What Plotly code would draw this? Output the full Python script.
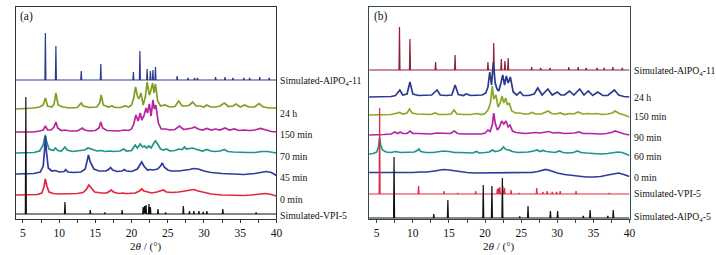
import plotly.graph_objects as go

# ---------------- Panel (a) data ----------------
# simulated stick patterns: peak positions (2theta) and heights
a_sim11_pos = [8.1, 9.55, 13.05, 15.75, 20.25, 21.15, 22.15, 22.6, 22.95, 23.3, 26.3, 27.8, 28.7, 29.1, 31.6, 32.9, 34.0, 35.5, 36.3, 37.7, 39.0]
a_sim11_h   = [47, 34, 9, 16, 8, 29, 11, 9, 10, 13, 4, 2, 2, 2, 3, 3, 2, 2, 2, 3, 2]
a_vpi_pos = [5.4, 10.8, 14.3, 16.3, 18.7, 21.6, 21.8, 22.0, 22.4, 22.6, 23.65, 24.7, 27.15, 28.0, 28.6, 29.3, 29.9, 30.4, 32.6, 37.2]
a_vpi_h   = [117, 12, 4, 1.5, 4, 7, 8, 9, 10, 7, 5, 1.5, 8, 3, 3, 3, 2, 3, 5, 1.5]

a_0_x = [4.0, 5.0, 6.0, 7.0, 7.6, 7.9, 8.1, 8.3, 8.6, 9.2, 10.0, 10.8, 11.5, 12.5, 13.3, 13.8, 14.1, 14.4, 14.9, 15.8, 16.6, 17.0, 17.2, 17.5, 18.2, 18.9, 19.1, 19.6, 20.5, 21.1, 21.4, 21.7, 22.3, 22.8, 23.5, 24.1, 24.4, 24.8, 25.5, 26.5, 27.3, 28.0, 28.6, 29.2, 30.0, 31.0, 32.5, 34.0, 35.5, 36.5, 37.5, 38.5, 39.3, 40.0]
a_0_h = [1, 1, 1, 1.5, 3, 9, 17, 10, 4, 2.5, 2, 2, 2, 2.5, 3.5, 7, 11, 8, 4, 3, 3, 5, 6, 4, 2.5, 3, 2.5, 2.5, 3, 5, 7, 5, 3.5, 3, 4, 5, 6, 4, 3.5, 4, 5, 6, 6.5, 5, 3.5, 2, 1, 0.5, 0.5, 1, 2, 2.5, 1.5, 0]

a_45_x = [4.0, 5.5, 6.5, 7.4, 7.8, 8.0, 8.1, 8.25, 8.5, 9.0, 9.5, 10.0, 10.7, 10.9, 11.2, 12.0, 13.0, 13.6, 13.9, 14.05, 14.3, 14.8, 15.5, 16.5, 16.9, 17.1, 17.4, 18.0, 18.7, 19.0, 19.3, 20.0, 20.8, 21.2, 21.4, 21.7, 22.2, 22.6, 23.0, 23.6, 24.0, 24.25, 24.5, 25.0, 25.5, 26.5, 27.5, 28.0, 28.6, 29.2, 30.0, 31.0, 32.5, 34.0, 35.5, 37.0, 38.0, 38.6, 39.3, 40.0]
a_45_h = [0, 0, 0.5, 2, 8, 25, 38, 22, 6, 3, 3.5, 2, 2.5, 4.5, 2, 1.5, 2, 5, 15, 19, 12, 5, 3, 3, 5, 6.5, 4, 2.5, 3, 4.5, 3, 2.5, 5, 10, 12, 8, 4, 4.5, 4, 5, 8, 11, 7, 4, 3, 3, 3.5, 4.5, 5.5, 5, 3, 1.5, 0.5, 0, -0.5, 0.5, 2, 2.5, 1.5, -1.5]

a_70_x = [4.0, 5.5, 6.5, 7.3, 7.8, 8.0, 8.1, 8.25, 8.6, 9.2, 9.5, 9.8, 10.3, 10.8, 11.1, 11.8, 12.8, 13.5, 14.0, 14.5, 15.2, 15.8, 16.3, 17.0, 17.6, 18.4, 18.9, 19.3, 20.0, 20.5, 20.8, 21.2, 21.5, 21.8, 22.1, 22.4, 22.7, 23.1, 23.3, 23.6, 24.0, 24.4, 24.8, 25.3, 26.0, 26.5, 27.0, 27.3, 27.6, 28.0, 28.4, 28.8, 29.3, 29.8, 30.4, 30.9, 31.5, 32.2, 32.8, 33.3, 34.0, 35.0, 36.0, 37.0, 38.0, 38.8, 39.5, 40.0]
a_70_h = [1, 1, 1.5, 3, 9, 16, 19, 13, 5, 3.5, 6, 3.5, 3, 7, 4, 2.5, 3, 4, 6, 5, 3, 3.5, 2.5, 3, 2.5, 3, 5, 3, 3.5, 9, 6, 10, 7, 8, 6, 8, 6, 11, 13, 10, 5, 4, 5, 3, 3.5, 5, 4.5, 7, 5, 5.5, 6, 5, 4, 3, 4.5, 3, 2.5, 3, 4.5, 2.5, 2, 1.5, 1.5, 1.5, 2.5, 2.5, 1.5, 1]

a_150_x = [4.0, 5.5, 6.5, 7.3, 7.8, 8.1, 8.4, 8.9, 9.3, 9.55, 9.8, 10.3, 10.8, 11.5, 12.5, 13.0, 13.2, 13.5, 14.2, 15.0, 15.5, 15.75, 16.0, 16.6, 17.3, 18.2, 19.0, 19.6, 20.0, 20.3, 20.6, 20.9, 21.2, 21.4, 21.7, 22.0, 22.2, 22.45, 22.7, 22.95, 23.15, 23.35, 23.7, 24.1, 24.7, 25.3, 26.0, 26.6, 27.2, 27.8, 28.4, 28.7, 29.2, 29.8, 30.4, 31.0, 31.6, 32.2, 32.9, 33.5, 34.2, 34.8, 35.5, 36.3, 37.0, 37.8, 38.5, 39.3, 40.0]
a_150_h = [1, 1, 1, 2, 3, 7, 3, 3, 6, 11, 5, 2.5, 3, 2, 2, 4, 5, 3, 2, 2.5, 5, 11, 5, 2.5, 2, 2, 3, 2.5, 4, 9, 18, 12, 20, 13, 17, 25, 20, 29, 17, 33, 24, 28, 10, 4, 4, 3, 3.5, 7, 3.5, 4, 5, 6, 4, 3, 4.5, 3, 4, 3, 5, 3, 4, 2.5, 3, 2.5, 3, 4.5, 3, 1.5, 1]

a_24_x = [4.0, 5.5, 6.5, 7.3, 7.8, 8.1, 8.4, 9.0, 9.3, 9.55, 9.85, 10.5, 11.5, 12.5, 12.8, 13.05, 13.3, 14.2, 15.2, 15.6, 15.8, 16.1, 16.8, 17.3, 17.7, 18.5, 19.1, 19.6, 20.0, 20.3, 20.55, 20.8, 21.0, 21.3, 21.6, 21.9, 22.15, 22.45, 22.65, 22.9, 23.1, 23.3, 23.6, 24.0, 24.6, 25.3, 26.0, 26.5, 27.0, 27.6, 28.0, 28.45, 28.9, 29.5, 30.0, 30.4, 30.9, 31.6, 32.2, 32.8, 33.4, 34.0, 34.4, 35.0, 35.6, 36.2, 37.0, 37.6, 38.2, 39.0, 40.0]
a_24_h = [2, 2.5, 3, 4, 6, 13, 5, 4, 7, 18, 6, 4, 3, 3.5, 6, 8, 5, 3.5, 4, 8, 16, 6, 4, 5, 3.5, 3.5, 5, 4, 6, 13, 24, 15, 12, 18, 6, 14, 29, 16, 20, 28, 18, 27, 10, 5, 6, 4, 4.5, 10, 5, 5, 6, 9, 5, 5, 4, 6, 4, 4, 5, 8, 4.5, 5, 7, 4, 6, 4, 4, 7.5, 4, 3, 3]

# ---------------- Panel (b) data ----------------
b_sim11_pos = [8.15, 9.6, 13.15, 15.85, 20.4, 21.2, 22.25, 22.75, 23.2, 26.45, 27.7, 29.0, 31.6, 32.9, 34.0, 35.5, 36.5, 37.7, 39.0]
b_sim11_h   = [43, 31, 8, 15, 8, 27, 11, 9, 12, 3, 2, 2, 3, 3, 2, 2, 2, 3, 2]
b_vpi_pos = [5.4, 10.8, 14.3, 16.2, 18.7, 21.7, 21.85, 22.05, 22.45, 22.7, 23.6, 24.7, 27.15, 28.0, 28.6, 29.3, 29.9, 30.4, 32.6, 37.2]
b_vpi_h   = [86, 8, 3, 1, 3, 5, 6, 7, 8, 6, 4, 1, 6, 2, 3, 2, 2, 3, 3, 1]
b_afi_pos = [7.4, 12.9, 14.85, 19.75, 20.95, 22.4, 24.8, 25.95, 29.05, 30.05, 33.6, 34.55, 37.0, 37.75]
b_afi_h   = [61, 4, 18, 33, 32, 40, 1.5, 12, 7, 7, 2, 8, 2, 8]

b_0_x = [3.95, 5.0, 6.0, 7.0, 8.0, 9.0, 10.0, 11.0, 12.0, 13.0, 13.7, 14.3, 15.0, 15.8, 16.5, 17.5, 18.5, 19.5, 20.5, 21.5, 22.5, 23.5, 24.5, 25.5, 26.5, 27.3, 28.0, 28.4, 29.2, 30.0, 31.0, 32.0, 33.0, 34.0, 35.0, 36.0, 37.0, 38.0, 38.5, 39.2, 40.0]
b_0_h = [0.5, 0.5, 0, 0, 0, 0, 0.5, 1, 1, 2, 3, 3.5, 3, 2, 1, 0.5, 0, 0, 0, 0.5, 0.5, 0, 0, 0, 0.5, 1.5, 3, 3.5, 2, 0, -1.5, -2.5, -3.5, -4, -4, -3.5, -2, -0.5, 0, -1.5, -3.5]

b_60_x = [3.95, 4.5, 5.0, 5.25, 5.4, 5.55, 5.8, 6.3, 7.0, 7.6, 8.3, 9.0, 9.6, 10.2, 10.6, 10.85, 11.1, 11.8, 12.8, 13.5, 14.2, 15.0, 15.8, 16.5, 17.5, 18.3, 18.8, 19.2, 20.0, 20.6, 21.0, 21.4, 21.8, 22.2, 22.55, 22.9, 23.3, 23.8, 24.5, 25.2, 26.0, 26.7, 27.2, 27.6, 28.0, 28.5, 29.0, 29.7, 30.3, 30.8, 31.5, 32.2, 32.8, 33.3, 34.0, 35.0, 36.0, 37.0, 37.8, 38.4, 39.0, 39.6, 40.0]
b_60_h = [0, 0.5, 2, 7, 16, 9, 4, 2, 1.5, 2.5, 1.5, 1.5, 1.5, 2, 3.5, 5, 2.5, 1.5, 1.5, 2.5, 3, 2.5, 1.5, 1.5, 1, 1, 2.5, 1, 1.5, 2, 4, 2.5, 3, 4, 7, 4.5, 4, 2.5, 1.5, 1.5, 2, 3, 4, 2.5, 3.5, 2.5, 2, 1.5, 3, 1.5, 1, 1.5, 3, 1.5, 1, 0.5, 0, 0.5, 1.5, 2, 1.5, 0, -1.5]

b_90_x = [3.95, 5.0, 6.0, 7.0, 7.5, 7.9, 8.25, 8.6, 9.2, 9.6, 10.0, 10.8, 11.5, 12.5, 13.3, 14.2, 15.2, 15.75, 16.2, 17.0, 18.0, 18.9, 19.5, 20.0, 20.4, 20.7, 21.0, 21.2, 21.4, 21.7, 22.0, 22.3, 22.6, 22.9, 23.2, 23.45, 23.8, 24.3, 25.0, 25.6, 26.3, 27.0, 27.6, 28.2, 28.8, 29.4, 30.2, 31.0, 31.8, 32.4, 33.0, 33.6, 34.4, 35.2, 36.0, 36.8, 37.5, 38.0, 38.6, 39.3, 40.0]
b_90_h = [0, 0, 0.5, 1, 3, 1.5, 3, 1.5, 1.5, 4, 1.5, 1.5, 1, 1, 2, 1.5, 1.5, 4, 1.5, 1, 1, 1.5, 1, 2, 5, 3.5, 10, 22, 12, 5, 8, 14, 11, 14, 8, 10, 4, 2.5, 2, 1.5, 2, 2.5, 2, 3, 3.5, 2, 2.5, 1.5, 1.5, 2, 3, 1.5, 1.5, 1, 1, 1.5, 2.5, 4, 2.5, 1, 0]

b_150_x = [3.95, 5.0, 6.0, 7.0, 7.6, 8.15, 8.6, 9.2, 9.55, 9.9, 10.6, 11.5, 12.5, 13.1, 13.6, 14.5, 15.3, 15.7, 16.1, 17.0, 18.0, 18.9, 19.5, 20.0, 20.4, 20.75, 21.0, 21.2, 21.5, 21.8, 22.1, 22.35, 22.6, 22.85, 23.1, 23.35, 23.7, 24.2, 24.8, 25.4, 26.0, 26.5, 27.0, 27.8, 28.3, 28.75, 29.2, 29.8, 30.4, 31.0, 31.7, 32.3, 32.9, 33.5, 34.2, 34.8, 35.5, 36.2, 37.0, 37.6, 38.0, 38.6, 39.3, 40.0]
b_150_h = [0, 0, 0, 0.5, 1.5, 2.5, 1, 2, 6, 2, 1, 0.5, 0.5, 2, 0.5, 0.5, 1, 5, 1, 0.5, 0.5, 1.5, 0.5, 1.5, 5, 12, 29, 16, 20, 8, 12, 19, 12, 17, 10, 12, 4, 2, 2, 1, 1, 2.5, 1, 1, 2.5, 4, 1.5, 1, 2, 0.5, 1.5, 1, 3, 1, 1.5, 1, 1.5, 0.5, 1, 2, 4, 1.5, 0, -2]

b_24_x = [3.95, 5.0, 6.0, 7.0, 7.6, 8.2, 8.6, 9.2, 9.6, 10.0, 10.8, 11.8, 12.6, 13.35, 13.8, 14.6, 15.4, 15.85, 16.3, 17.0, 17.4, 18.0, 19.0, 19.6, 20.1, 20.4, 20.65, 20.9, 21.15, 21.4, 21.65, 21.9, 22.2, 22.45, 22.7, 22.95, 23.2, 23.5, 23.9, 24.4, 24.85, 25.3, 26.0, 26.8, 27.3, 27.9, 28.7, 29.3, 30.0, 30.5, 31.0, 31.7, 32.3, 33.1, 33.7, 34.3, 34.9, 35.6, 36.3, 37.0, 37.9, 38.5, 39.2, 40.0]
b_24_h = [0, 0, 0.5, 0.5, 1.5, 7, 2, 3, 15, 3, 1.5, 1.5, 2, 7, 2, 1.5, 2, 12, 2.5, 1.5, 3, 1.5, 1.5, 2, 4, 10, 25, 12, 35, 14, 8, 6, 14, 22, 12, 21, 14, 20, 5, 2, 5, 1.5, 1.5, 3, 9, 2, 8, 2, 5, 2, 2, 6, 2, 8, 2, 6, 1.5, 5, 1.5, 1.5, 7, 2, 0.5, 0]

# series names (labels)
a_names = ["Simulated-AlPO<sub>4</sub>-11", "24 h", "150 min", "70 min", "45 min", "0 min", "Simulated-VPI-5"]
b_names = ["Simulated-AlPO<sub>4</sub>-11", "24 h", "150 min", "90 min", "60 min", "0 min", "Simulated-VPI-5", "Simulated-AlPO<sub>4</sub>-5"]
x_ticks = [5, 10, 15, 20, 25, 30, 35, 40]
x_minor = [7.5, 12.5, 17.5, 22.5, 27.5, 32.5, 37.5]

# ---------------- layout constants ----------------
W, H = 716, 255
PIX_BOTTOM, PIX_TOP = 219, 7
YR = PIX_BOTTOM - PIX_TOP

def py(p):  # pixel row -> paper y
    return 1 - p / H

# vertical offsets (baseline rows in pixels)
a_base = [80, 111, 133, 154, 174, 196, 214]
b_base = [70, 97, 115, 135, 154, 173, 194, 218]
a_label_row = [81, 113, 134, 156, 177, 199, 215]
b_label_row = [71, 98, 117, 137, 156, 177, 193, 217]

a_colors = ["#2b3a8f", "#7f9f22", "#b4259f", "#1d9488", "#2f3b9c", "#e3263f", "#111111"]
b_colors = ["#8e1f33", "#2b3a8f", "#8aa823", "#b4259f", "#1d9488", "#2f3b9c", "#e22849", "#111111"]
a_sim = [True, False, False, False, False, False, True]
b_sim = [True, False, False, False, False, False, True, True]

FONT = "Liberation Serif"

def sticks(pos, h, x0, x1, d=0.07):
    xs, ys = [x0], [0]
    for p, v in zip(pos, h):
        xs += [p - d, p, p + d]
        ys += [0, v, 0]
    xs.append(x1)
    ys.append(0)
    return xs, ys

fig = go.Figure()

a_series = [
    sticks(a_sim11_pos, a_sim11_h, 4.0, 40.0),
    (a_24_x, a_24_h), (a_150_x, a_150_h), (a_70_x, a_70_h),
    (a_45_x, a_45_h), (a_0_x, a_0_h),
    sticks(a_vpi_pos, a_vpi_h, 4.0, 40.0),
]
b_series = [
    sticks(b_sim11_pos, b_sim11_h, 3.95, 40.0),
    (b_24_x, b_24_h), (b_150_x, b_150_h), (b_90_x, b_90_h),
    (b_60_x, b_60_h), (b_0_x, b_0_h),
    sticks(b_vpi_pos, b_vpi_h, 3.95, 40.0),
    sticks(b_afi_pos, b_afi_h, 3.95, 40.0),
]

for (xs, hs), base, col, sim in zip(a_series, a_base, a_colors, a_sim):
    off = PIX_BOTTOM - base
    fig.add_trace(go.Scatter(x=xs, y=[v + off for v in hs], mode="lines",
                             line=dict(color=col, width=1.2 if sim else 1.7), xaxis="x", yaxis="y",
                             showlegend=False, hoverinfo="skip"))
for (xs, hs), base, col, sim in zip(b_series, b_base, b_colors, b_sim):
    off = PIX_BOTTOM - base
    fig.add_trace(go.Scatter(x=xs, y=[v + off for v in hs], mode="lines",
                             line=dict(color=col, width=1.2 if sim else 1.7), xaxis="x2", yaxis="y2",
                             showlegend=False, hoverinfo="skip"))

LABEL_SIZE = 9.8
ann = []
for name, row in zip(a_names, a_label_row):
    ann.append(dict(x=278 / W, y=py(row), xref="paper", yref="paper", text=name,
                    showarrow=False, xanchor="left", yanchor="middle",
                    font=dict(family=FONT, size=LABEL_SIZE, color="#111")))
for name, row in zip(b_names, b_label_row):
    ann.append(dict(x=631.5 / W, y=py(row), xref="paper", yref="paper", text=name,
                    showarrow=False, xanchor="left", yanchor="middle",
                    font=dict(family=FONT, size=LABEL_SIZE, color="#111")))
ann.append(dict(x=18 / W, y=py(17), xref="paper", yref="paper", text="(a)", showarrow=False,
                xanchor="left", yanchor="middle", font=dict(family=FONT, size=11.5, color="#111")))
ann.append(dict(x=372 / W, y=py(17), xref="paper", yref="paper", text="(b)", showarrow=False,
                xanchor="left", yanchor="middle", font=dict(family=FONT, size=11.5, color="#111")))
ann.append(dict(x=146 / W, y=py(246), xref="paper", yref="paper", text="2<i>θ</i> / (°)", showarrow=False,
                xanchor="center", yanchor="middle", font=dict(family=FONT, size=11, color="#111")))
ann.append(dict(x=499 / W, y=py(246), xref="paper", yref="paper", text="2<i>θ</i> / (°)", showarrow=False,
                xanchor="center", yanchor="middle", font=dict(family=FONT, size=11, color="#111")))

def xaxis(dom, rng, lc, anchor):
    return dict(domain=dom, range=rng, anchor=anchor, showgrid=False, zeroline=False,
                showline=True, linecolor=lc, linewidth=1.2, mirror=True,
                ticks="outside", ticklen=3, tickwidth=1, tickcolor=lc,
                tickvals=x_ticks, ticktext=[str(t) for t in x_ticks],
                minor=dict(tickvals=x_minor, ticks="outside", ticklen=3, tickcolor=lc),
                tickfont=dict(family=FONT, size=11.5, color="#111"), fixedrange=True)

def yaxis(anchor, lc):
    return dict(domain=[py(PIX_BOTTOM), py(PIX_TOP)], range=[0, YR], anchor=anchor,
                showgrid=False, zeroline=False, showticklabels=False, ticks="",
                showline=True, linecolor=lc, linewidth=1.2, mirror=True, fixedrange=True)

fig.update_layout(
    width=W, height=H, margin=dict(l=0, r=0, t=0, b=0, autoexpand=False),
    paper_bgcolor="white", plot_bgcolor="white",
    xaxis=xaxis([15.7 / W, 276.4 / W], [4.0, 40.0], "#333", "y"),
    yaxis=yaxis("x", "#333"),
    xaxis2=xaxis([369 / W, 629.5 / W], [3.93, 40.0], "#2f4a52", "y2"),
    yaxis2=yaxis("x2", "#2f4a52"),
    annotations=ann,
)

fig.write_html("out.html", config={"displayModeBar": False},
               post_script="document.body.style.margin='0px';document.body.style.padding='0px';")
